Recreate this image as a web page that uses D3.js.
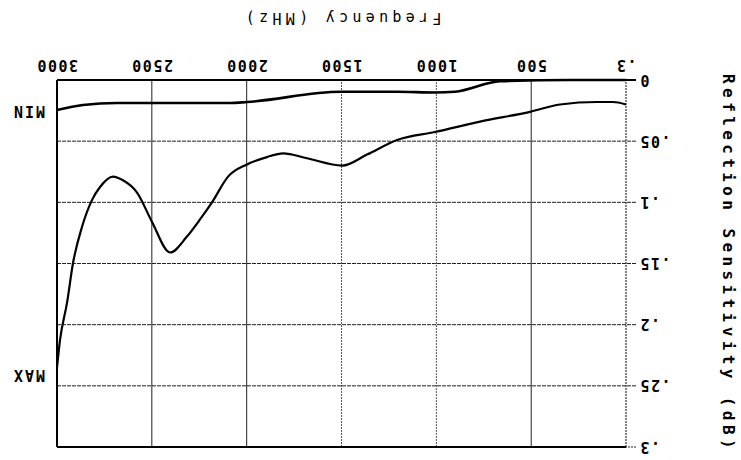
<!DOCTYPE html>
<html>
<head>
<meta charset="utf-8">
<script src="https://cdn.jsdelivr.net/npm/d3@7"></script>
<style>
  body { margin: 0; background: #fff; }
  text { font-family: "DejaVu Sans Mono", monospace; font-weight: bold; fill: #000; }
</style>
</head>
<body>
<script>
// data (frequency in MHz, sensitivity in dB)
var maxFreq = [0.3, 69, 153, 348, 506, 770, 1007, 1207, 1366, 1497, 1682, 1808, 1893, 1998, 2098, 2183, 2246, 2315, 2404, 2499, 2578, 2652, 2705, 2773, 2815, 2868, 2916, 2947, 2984, 3000];
var maxDb = [0.020, 0.018, 0.018, 0.020, 0.026, 0.034, 0.0425, 0.049, 0.061, 0.070, 0.064, 0.060, 0.063, 0.069, 0.079, 0.100, 0.114, 0.128, 0.141, 0.116, 0.092, 0.082, 0.079, 0.0875, 0.098, 0.120, 0.150, 0.182, 0.2125, 0.235];
var minFreq = [0.3, 300, 664, 902, 1007, 1207, 1503, 1998, 2088, 2246, 2499, 2684, 2863, 3000];
var minDb = [0, 0, 0.001, 0.0096, 0.0102, 0.0096, 0.0096, 0.018, 0.0188, 0.0188, 0.0188, 0.0188, 0.0204, 0.0245];

var xTicks = [0.3, 500, 1000, 1500, 2000, 2500, 3000];
var xTickLabels = [".3", "500", "1000", "1500", "2000", "2500", "3000"];
var yTicks = [0, 0.05, 0.1, 0.15, 0.2, 0.25, 0.3];
var yTickLabels = ["0", ".05", ".1", ".15", ".2", ".25", ".3"];
var solidX = [500, 2000, 2500];

var W = 741, H = 460;
var svg = d3.select("body").append("svg").attr("width", W).attr("height", H);

// the scan is upside down, so draw normally and turn the whole thing
var g = svg.append("g").attr("transform", "rotate(180 " + W / 2 + " " + H / 2 + ")");

var pLeft = 115, pRight = 684, pTop = 13, pBottom = 380;
var x = d3.scaleLinear().domain([0.3, 3000]).range([pLeft, pRight]);
var y = d3.scaleLinear().domain([0, 0.3]).range([pBottom, pTop]);

// horizontal grid
g.selectAll(".hgrid")
    .data(yTicks.slice(1, -1))
    .enter().append("line")
    .attr("x1", pLeft - 10).attr("x2", pRight)
    .attr("y1", function (d) { return y(d); })
    .attr("y2", function (d) { return y(d); })
    .attr("stroke", "#222")
    .attr("stroke-width", 1)
    .attr("stroke-dasharray", "4,1");

// vertical grid
g.selectAll(".vgrid")
    .data(xTicks.slice(1, -1))
    .enter().append("line")
    .attr("x1", function (d) { return x(d); })
    .attr("x2", function (d) { return x(d); })
    .attr("y1", pTop).attr("y2", pBottom)
    .attr("stroke", function (d) { return solidX.indexOf(d) >= 0 ? "#222" : "#555"; })
    .attr("stroke-width", 1)
    .attr("stroke-dasharray", function (d) { return solidX.indexOf(d) >= 0 ? null : "2,1"; });

// frame
g.append("line").attr("x1", pLeft).attr("x2", pLeft).attr("y1", pTop).attr("y2", pBottom)
    .attr("stroke", "#333").attr("stroke-width", 1.2).attr("stroke-dasharray", "2,1");
g.append("line").attr("x1", pRight).attr("x2", pRight).attr("y1", pTop).attr("y2", pBottom)
    .attr("stroke", "#000").attr("stroke-width", 2);
g.append("line").attr("x1", pLeft).attr("x2", pRight).attr("y1", pTop).attr("y2", pTop)
    .attr("stroke", "#000").attr("stroke-width", 2);
g.append("line").attr("x1", pLeft - 10).attr("x2", pRight).attr("y1", pBottom).attr("y2", pBottom)
    .attr("stroke", "#000").attr("stroke-width", 2);
g.append("line").attr("x1", pLeft - 10).attr("x2", pLeft).attr("y1", pTop).attr("y2", pTop)
    .attr("stroke", "#222").attr("stroke-width", 1).attr("stroke-dasharray", "2,1");

// tick labels
g.selectAll(".xlab")
    .data(xTicks)
    .enter().append("text")
    .attr("x", function (d) { return x(d); })
    .attr("y", 395)
    .attr("dy", "0.36em")
    .attr("text-anchor", "middle")
    .style("font-size", "15px")
    .style("letter-spacing", "1.5px")
    .text(function (d, i) { return xTickLabels[i]; });

g.selectAll(".ylab")
    .data(yTicks)
    .enter().append("text")
    .attr("x", 102)
    .attr("y", function (d) { return y(d); })
    .attr("dy", "0.36em")
    .attr("text-anchor", "end")
    .style("font-size", "15px")
    .style("letter-spacing", "1.5px")
    .text(function (d, i) { return yTickLabels[i]; });

// curves
var line = d3.line()
    .x(function (d) { return x(d[0]); })
    .y(function (d) { return y(d[1]); })
    .curve(d3.curveMonotoneX);

g.append("path")
    .datum(d3.zip(maxFreq, maxDb))
    .attr("d", line)
    .attr("fill", "none")
    .attr("stroke", "#000")
    .attr("stroke-width", 2.2);

g.append("path")
    .datum(d3.zip(minFreq, minDb))
    .attr("d", line)
    .attr("fill", "none")
    .attr("stroke", "#000")
    .attr("stroke-width", 2.6);

// MIN / MAX markers
g.append("text").attr("x", 696).attr("y", 349).attr("dy", "0.36em")
    .style("font-size", "15px").style("letter-spacing", "2px").text("MIN");
g.append("text").attr("x", 696).attr("y", 85).attr("dy", "0.36em")
    .style("font-size", "15px").style("letter-spacing", "2px").text("MAX");

// axis titles
g.append("text")
    .attr("x", (pLeft + pRight) / 2)
    .attr("y", 442)
    .attr("dy", "0.36em")
    .attr("text-anchor", "middle")
    .style("font-size", "15px")
    .style("font-weight", "normal")
    .style("letter-spacing", "4.3px")
    .text("Frequency (MHz)");

g.append("text")
    .attr("transform", "translate(12," + (pTop + pBottom) / 2 + ") rotate(-90)")
    .attr("dy", "0.36em")
    .attr("text-anchor", "middle")
    .style("font-size", "16px")
    .style("letter-spacing", "4.4px")
    .text("Reflection Sensitivity (dB)");
</script>
</body>
</html>
